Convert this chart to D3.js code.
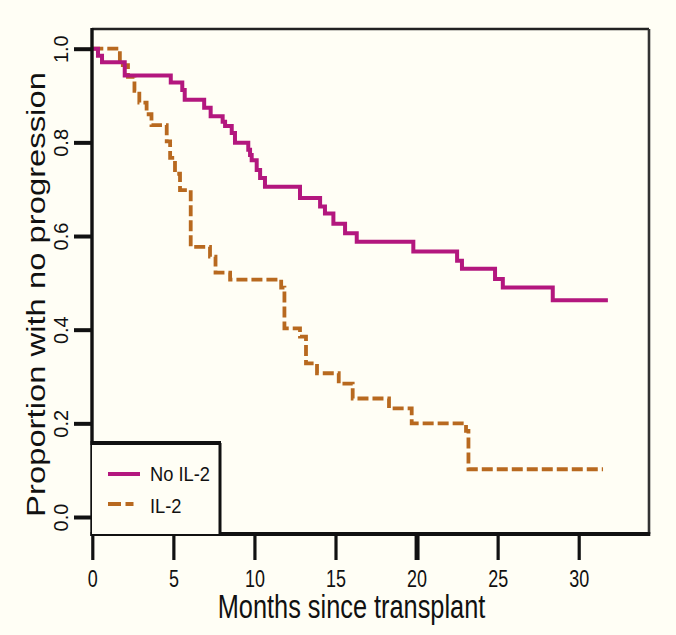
<!DOCTYPE html>
<html>
<head>
<meta charset="utf-8">
<script src="https://cdn.jsdelivr.net/npm/d3@7"></script>
<style>
  html, body { margin: 0; padding: 0; background: #fffef5; }
  svg { display: block; }
  text { font-family: "Liberation Sans", Arial, sans-serif; fill: #111; }
</style>
</head>
<body>
<svg id="chart" width="676" height="635"></svg>
<script>
// ---- data ----
const seriesNames = ["No IL-2", "IL-2"];
const noIL2Times = [0, 0.35, 0.6, 2.0, 4.84, 5.55, 5.7, 6.9, 7.3, 8.04, 8.19, 8.6, 8.8, 9.62, 9.73, 9.83, 10.14, 10.35, 10.65, 12.81, 14.05, 14.35, 14.87, 15.59, 16.31, 19.8, 22.5, 22.8, 24.84, 25.32, 28.4, 31.8];
const noIL2Surv  = [1.0, 0.985, 0.971, 0.943, 0.928, 0.912, 0.891, 0.874, 0.856, 0.844, 0.835, 0.82, 0.799, 0.784, 0.773, 0.762, 0.741, 0.724, 0.705, 0.681, 0.663, 0.648, 0.626, 0.606, 0.588, 0.567, 0.547, 0.530, 0.508, 0.49, 0.463, 0.463];
const il2Times = [0, 1.7, 2.2, 2.6, 2.9, 3.35, 3.65, 4.59, 4.8, 5.1, 5.41, 6.07, 7.26, 7.6, 8.5, 11.65, 11.85, 12.81, 13.18, 13.86, 15.2, 16.06, 18.3, 19.7, 23.05, 23.2, 31.5];
const il2Surv  = [1.0, 0.965, 0.94, 0.91, 0.885, 0.86, 0.837, 0.802, 0.767, 0.733, 0.698, 0.577, 0.556, 0.522, 0.507, 0.49, 0.403, 0.385, 0.328, 0.307, 0.285, 0.253, 0.232, 0.2, 0.184, 0.102, 0.102];
const xTicks = [0, 5, 10, 15, 20, 25, 30];
const yTicks = [0.0, 0.2, 0.4, 0.6, 0.8, 1.0];
const xTitle = "Months since transplant";
const yTitle = "Proportion with no progression";

// ---- layout ----
const box = { left: 92, top: 29, right: 649, bottom: 534 };
const colNo = "#b3177e", colIL = "#b8691f";

const svg = d3.select("#chart");
svg.append("rect").attr("width", 676).attr("height", 635).attr("fill", "#fffef5");

const x = d3.scaleLinear().domain([0, 30]).range([92.3, 578.7]);
const y = d3.scaleLinear().domain([0, 1]).range([517, 48.7]);

const line = d3.line().x(d => x(d[0])).y(d => y(d[1])).curve(d3.curveStepAfter);

const noData = noIL2Times.map((t, i) => [t, noIL2Surv[i]]);
const ilData = il2Times.map((t, i) => [t, il2Surv[i]]);

svg.append("path").datum(ilData).attr("d", line)
  .attr("fill", "none").attr("stroke", colIL).attr("stroke-width", 3.8)
  .attr("stroke-dasharray", "11,4");
svg.append("path").datum(noData).attr("d", line)
  .attr("fill", "none").attr("stroke", colNo).attr("stroke-width", 4);

// box
svg.append("line").attr("x1", box.left).attr("x2", box.right).attr("y1", box.top).attr("y2", box.top)
  .attr("stroke", "#222").attr("stroke-width", 2.6);
svg.append("line").attr("x1", box.right).attr("x2", box.right).attr("y1", box.top).attr("y2", box.bottom)
  .attr("stroke", "#333").attr("stroke-width", 2.6);
svg.append("line").attr("x1", box.left).attr("x2", box.left).attr("y1", box.top - 1).attr("y2", box.bottom + 2)
  .attr("stroke", "#111").attr("stroke-width", 3.4);
svg.append("line").attr("x1", box.left - 1.5).attr("x2", box.right + 1.3).attr("y1", box.bottom).attr("y2", box.bottom)
  .attr("stroke", "#111").attr("stroke-width", 4);

// x axis
const gx = svg.append("g").attr("transform", `translate(0,${box.bottom})`)
  .call(d3.axisBottom(x).tickValues(xTicks).tickSize(26).tickFormat(d3.format("d")));
gx.select(".domain").remove();
gx.selectAll(".tick line").attr("stroke", "#111").attr("stroke-width", d => d === 20 ? 5 : 3.2);
gx.selectAll(".tick text").attr("y", 52.7).attr("dy", "0").attr("font-size", 23)
  .attr("transform", "scale(0.78,1)").attr("fill", "#111").style("font-family", '"Liberation Sans", Arial, sans-serif');

// y axis
const gy = svg.append("g").attr("transform", `translate(${box.left},0)`)
  .call(d3.axisLeft(y).tickValues(yTicks).tickSize(18).tickFormat(d3.format(".1f")));
gy.select(".domain").remove();
gy.selectAll(".tick line").attr("stroke", "#111").attr("stroke-width", 4);
gy.selectAll(".tick text").attr("x", 0).attr("y", 0).attr("dy", "0")
  .attr("text-anchor", "middle").attr("font-size", 20)
  .attr("transform", "translate(-24,0) rotate(-90)").attr("fill", "#111")
  .style("font-family", '"Liberation Sans", Arial, sans-serif');

// titles
svg.append("text").attr("text-anchor", "middle").attr("font-size", 32.5)
  .attr("transform", "translate(351.5,618) scale(0.78,1)").text(xTitle);
svg.append("text").attr("text-anchor", "middle").attr("font-size", 32.8)
  .attr("transform", "translate(45,294.5) scale(0.78,1) rotate(-90)").text(yTitle);

// legend
const lg = svg.append("g");
lg.append("rect").attr("x", box.left).attr("y", 443).attr("width", 220 - box.left).attr("height", box.bottom - 443)
  .attr("fill", "#fffef5");
lg.append("line").attr("x1", box.left - 1.5).attr("x2", 221).attr("y1", 443).attr("y2", 443)
  .attr("stroke", "#111").attr("stroke-width", 4);
lg.append("line").attr("x1", 220).attr("x2", 220).attr("y1", 443).attr("y2", box.bottom)
  .attr("stroke", "#111").attr("stroke-width", 3);
lg.append("line").attr("x1", 108).attr("x2", 140).attr("y1", 474).attr("y2", 474)
  .attr("stroke", colNo).attr("stroke-width", 4);
lg.append("line").attr("x1", 108).attr("x2", 133.5).attr("y1", 504).attr("y2", 504)
  .attr("stroke", colIL).attr("stroke-width", 3.8).attr("stroke-dasharray", "13,4.5");
lg.append("text").attr("font-size", 21).attr("transform", "translate(150,481) scale(0.87,1)").text(seriesNames[0]);
lg.append("text").attr("font-size", 21).attr("transform", "translate(150,513) scale(0.87,1)").text(seriesNames[1]);
</script>
</body>
</html>
